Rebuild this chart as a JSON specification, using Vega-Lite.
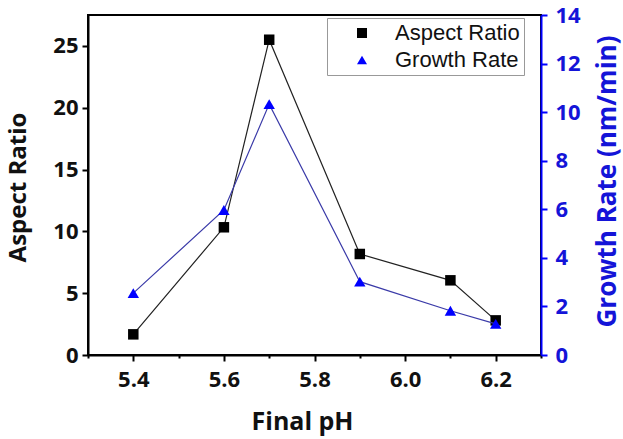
{
  "$schema": "https://vega.github.io/schema/vega-lite/v6.json",
  "width": 453,
  "height": 340,
  "autosize": "none",
  "padding": {"left": 88, "top": 15, "right": 82, "bottom": 84},
  "background": "white",
  "data": {
    "values": [
      {"pH": 5.4, "ar": 1.67, "gr": 2.55},
      {"pH": 5.6, "ar": 10.33, "gr": 5.97},
      {"pH": 5.7, "ar": 25.5, "gr": 10.33},
      {"pH": 5.9, "ar": 8.17, "gr": 3.02},
      {"pH": 6.1, "ar": 6.04, "gr": 1.82},
      {"pH": 6.2, "ar": 2.8, "gr": 1.28}
    ]
  },
  "encoding": {
    "x": {
      "field": "pH",
      "type": "quantitative",
      "scale": {"domain": [5.3, 6.3], "nice": false, "zero": false},
      "axis": {
        "title": "Final pH",
        "values": [5.3, 5.4, 5.5, 5.6, 5.7, 5.8, 5.9, 6.0, 6.1, 6.2, 6.3],
        "labelExpr": "round(datum.value*10) % 2 === 0 ? format(datum.value, '.1f') : ''",
        "grid": false,
        "domainColor": "black",
        "domainWidth": 2,
        "tickColor": "black",
        "tickWidth": 2,
        "tickSize": 6,
        "tickDash": {"condition": {"test": "round(datum.value*10) % 2 === 1", "value": [3, 20]}, "value": []},
        "labelFont": "Open Sans",
        "labelFontWeight": "bold",
        "labelFontSize": 22,
        "labelColor": "#111111",
        "labelPadding": 8,
        "labelFlush": false,
        "labelOverlap": false,
        "titleFont": "Open Sans",
        "titleFontWeight": "bold",
        "titleFontSize": 25,
        "titleColor": "#111111",
        "titleX": 214,
        "titleY": 74,
        "titleBaseline": "alphabetic",
        "titleAnchor": "middle"
      }
    }
  },
  "layer": [
    {
      "layer": [
        {
          "mark": {"type": "line", "color": "#222222", "strokeWidth": 1.2},
          "encoding": {
            "y": {
              "field": "ar",
              "type": "quantitative",
              "scale": {"domain": [0, 27.5], "nice": false},
              "axis": {
                "orient": "left",
                "title": "Aspect Ratio",
                "values": [0, 2.5, 5, 7.5, 10, 12.5, 15, 17.5, 20, 22.5, 25],
                "labelExpr": "datum.value % 5 === 0 ? format(datum.value, 'd') : ''",
                "grid": false,
                "domainColor": "black",
                "domainWidth": 2,
                "tickColor": "black",
                "tickWidth": 2,
                "tickSize": 6,
                "tickDash": {"condition": {"test": "datum.value % 5 !== 0", "value": [3, 20]}, "value": []},
                "labelFont": "Open Sans",
                "labelFontWeight": "bold",
                "labelFontSize": 22,
                "labelColor": "#111111",
                "labelPadding": 4,
                "labelOverlap": false,
                "titleFont": "Open Sans",
                "titleFontWeight": "bold",
                "titleFontSize": 24,
                "titleColor": "#111111",
                "titleAngle": 270,
                "titleX": -70,
                "titleY": 172,
                "titleBaseline": "middle",
                "titleAnchor": "middle"
              }
            }
          }
        },
        {
          "mark": {"type": "point", "filled": true, "size": 110, "opacity": 1},
          "encoding": {
            "y": {"field": "ar", "type": "quantitative"},
            "color": {"datum": "Aspect Ratio", "scale": {"domain": ["Aspect Ratio", "Growth Rate"], "range": ["black", "#0000ff"]}},
            "shape": {"datum": "Aspect Ratio", "scale": {"domain": ["Aspect Ratio", "Growth Rate"], "range": ["square", "triangle-up"]}}
          }
        }
      ]
    },
    {
      "layer": [
        {
          "mark": {"type": "line", "color": "#3a3aa8", "strokeWidth": 1.2},
          "encoding": {
            "y": {
              "field": "gr",
              "type": "quantitative",
              "scale": {"domain": [0, 14], "nice": false},
              "axis": {
                "orient": "right",
                "title": "Growth Rate (nm/min)",
                "values": [0, 1, 2, 3, 4, 5, 6, 7, 8, 9, 10, 11, 12, 13, 14],
                "labelExpr": "datum.value % 2 === 0 ? format(datum.value, 'd') : ''",
                "grid": false,
                "domainColor": "#0000ff",
                "domainWidth": 2,
                "tickColor": "#0000ff",
                "tickWidth": 2,
                "tickSize": 6,
                "tickDash": {"condition": {"test": "datum.value % 2 === 1", "value": [3, 20]}, "value": []},
                "labelFont": "Open Sans",
                "labelFontWeight": "bold",
                "labelFontSize": 22,
                "labelColor": "#1414d8",
                "labelPadding": 8,
                "labelOverlap": false,
                "titleFont": "Open Sans",
                "titleFontWeight": "bold",
                "titleFontSize": 26,
                "titleColor": "#1414d8",
                "titleAngle": 270,
                "titleX": 66,
                "titleY": 166,
                "titleBaseline": "middle",
                "titleAnchor": "middle"
              }
            }
          }
        },
        {
          "mark": {"type": "point", "filled": true, "size": 130, "opacity": 1},
          "encoding": {
            "y": {"field": "gr", "type": "quantitative"},
            "color": {"datum": "Growth Rate"},
            "shape": {"datum": "Growth Rate"}
          }
        }
      ]
    }
  ],
  "resolve": {"scale": {"y": "independent"}},
  "config": {
    "view": {"stroke": "black", "strokeWidth": 2},
    "font": "Open Sans",
    "legend": {
      "orient": "none",
      "legendX": 239,
      "legendY": 3,
      "title": null,
      "direction": "vertical",
      "fillColor": "white",
      "strokeColor": "#999999",
      "strokeWidth": 1,
      "padding": 4,
      "rowPadding": 5,
      "labelFont": "Liberation Sans",
      "labelFontSize": 22,
      "labelFontWeight": "normal",
      "labelColor": "#111111",
      "labelOffset": 22,
      "labelLimit": 300,
      "symbolSize": 100,
      "symbolOffset": 20
    }
  }
}
